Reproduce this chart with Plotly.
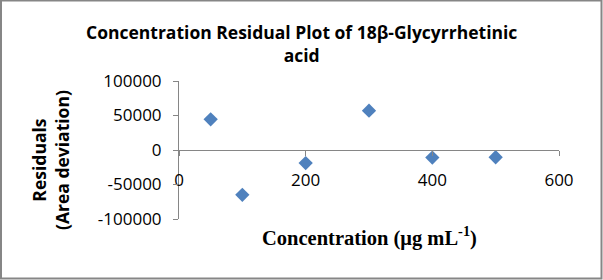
import plotly.graph_objects as go

concentration = [50, 100, 200, 300, 400, 500]
residuals = [44500, -65000, -19000, 57000, -11000, -10500]
x_ticks = [0, 200, 400, 600]
y_ticks = [-100000, -50000, 0, 50000, 100000]

W, H = 603, 280
L, R, T, B = 179, 44, 81, 61
pw, ph = W - L - R, H - T - B

def px(x):
    return (x - L) / pw

def py(y):
    return (H - B - y) / ph

fig = go.Figure()
fig.add_trace(go.Scatter(
    x=concentration, y=residuals, mode="markers",
    marker=dict(symbol="diamond", size=11, color="#4F81BD"),
    showlegend=False,
))

tick_font = dict(family="Open Sans, Liberation Sans, sans-serif", size=17, color="#000000")

fig.update_layout(
    width=W, height=H,
    margin=dict(l=L, r=R, t=T, b=B),
    paper_bgcolor="white", plot_bgcolor="white",
    xaxis=dict(
        range=[0, 600], tickvals=x_ticks, ticktext=[str(v) for v in x_ticks],
        anchor="free", position=0.5,
        showline=True, linecolor="#868686", linewidth=1,
        ticks="outside", ticklen=5, tickcolor="#868686",
        showgrid=False, zeroline=False, tickfont=tick_font,
        ticklabelstandoff=10,
    ),
    yaxis=dict(
        range=[-100000, 100000], tickvals=y_ticks, ticktext=[str(v) for v in y_ticks],
        showline=True, linecolor="#868686", linewidth=1,
        ticks="outside", ticklen=5, tickcolor="#868686",
        showgrid=False, zeroline=False, tickfont=tick_font,
        ticklabelstandoff=8,
    ),
    font=dict(family="Open Sans, Liberation Sans, sans-serif"),
)

fig.add_annotation(
    text="<b>Concentration Residual Plot of 18β-Glycyrrhetinic<br>acid</b>",
    xref="paper", yref="paper", x=px(301), y=py(44),
    xanchor="center", yanchor="middle", showarrow=False,
    font=dict(family="Open Sans, Liberation Sans, sans-serif", size=17.5, color="#000000"),
)
fig.add_annotation(
    text="<b>Residuals<br>(Area deviation)</b>",
    xref="paper", yref="paper", x=px(50), y=py(160),
    xanchor="center", yanchor="middle", showarrow=False, textangle=-90,
    font=dict(family="Open Sans, Liberation Sans, sans-serif", size=17.5, color="#000000"),
)
fig.add_annotation(
    text="<b>Concentration (μg mL<sup>-1</sup>)</b>",
    xref="paper", yref="paper", x=px(369), y=py(236),
    xanchor="center", yanchor="middle", showarrow=False,
    font=dict(family="Liberation Serif, Times New Roman, serif", size=20.5, color="#000000"),
)
fig.add_shape(
    type="rect", xref="paper", yref="paper",
    x0=px(1), x1=px(601.5), y0=py(278.5), y1=py(0.5),
    line=dict(color="#868686", width=2),
)

fig.write_html("out.html")
